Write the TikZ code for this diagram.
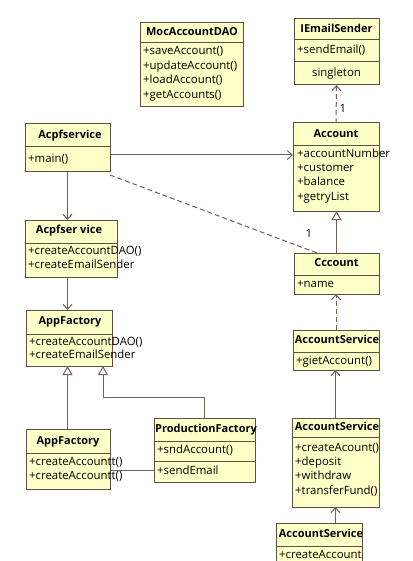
\documentclass[tikz,border=0pt]{standalone}
\usepackage{fontspec}
\setmainfont{Open Sans}
\usetikzlibrary{arrows.meta,calc}
\definecolor{boxfill}{RGB}{255,255,200}
\definecolor{edgecol}{RGB}{95,78,68}
\definecolor{conncol}{RGB}{115,98,88}
\tikzset{
 umlbox/.style={draw=edgecol, fill=boxfill, line width=1pt, inner sep=0pt, outer sep=0pt, anchor=north west},
 umltitle/.style={font=\bfseries\fontsize{11}{13}\selectfont, inner sep=0pt, anchor=mid},
 umlitem/.style={font=\fontsize{11.4}{13}\selectfont, inner sep=0pt, anchor=mid west},
 umlcenter/.style={font=\fontsize{11.4}{13}\selectfont, inner sep=0pt, anchor=mid},
 divider/.style={draw=edgecol, line width=1pt},
 conn/.style={draw=conncol, line width=1pt},
 dashconn/.style={conn, dash pattern=on 5pt off 3pt},
 openarrow/.style={-{Straight Barb[length=5pt,width=9pt]}},
 triarrow/.style={-{Triangle[open,length=9pt,width=10pt]}},
}
\begin{document}
\begin{tikzpicture}[x=1pt,y=-1pt]
\fill[white] (0,0) rectangle (412,561);
\useasboundingbox (0,0) rectangle (412,561);

% MocAccountDAO
\node[umlbox, minimum width=103pt, minimum height=84pt] (moc) at (140,23) {};
\draw[divider] (moc.west |- 0,43) -- (moc.east |- 0,43);
\node[umltitle] (moct) at (192,33) {MocAccountDAO};
\node[umlitem] (moc1) at (143,52) {+saveAccount()};
\node[umlitem] (moc2) at (143,66.5) {+updateAccount()};
\node[umlitem] (moc3) at (143,81) {+loadAccount()};
\node[umlitem] (moc4) at (143,95.5) {+getAccounts()};

% IEmailSender
\node[umlbox, minimum width=85pt, minimum height=66pt] (iem) at (294,19) {};
\draw[divider] (iem.west |- 0,40) -- (iem.east |- 0,40);
\draw[divider] (iem.west |- 0,62) -- (iem.east |- 0,62);
\node[umltitle] (iemt) at (336.5,30) {IEmailSender};
\node[umlitem] (iem1) at (297,51) {+sendEmail()};
\node[umlcenter] (iem2) at (336.5,73.5) {singleton};

% Acpfservice
\node[umlbox, minimum width=85pt, minimum height=48pt] (acpf) at (25,124) {};
\draw[divider] (acpf.west |- 0,147) -- (acpf.east |- 0,147);
\node[umltitle] (acpft) at (70,135.5) {Acpfservice};
\node[umlitem] (acpf1) at (28,160) {+main()};

% Account
\node[umlbox, minimum width=86pt, minimum height=88pt] (acc) at (293,123) {};
\draw[divider] (acc.west |- 0,146) -- (acc.east |- 0,146);
\node[umltitle] (acct) at (336,134.5) {Account};
\node[umlitem] (acc1) at (297,155) {+accountNumber};
\node[umlitem] (acc2) at (297,169) {+customer};
\node[umlitem] (acc3) at (297,183) {+balance};
\node[umlitem] (acc4) at (297,197.5) {+getryList};

% Acpfser vice
\node[umlbox, minimum width=92pt, minimum height=57pt] (acpf2) at (25,220) {};
\draw[divider] (acpf2.west |- 0,243) -- (acpf2.east |- 0,243);
\node[umltitle] (acpf2t) at (69,231) {Acpfser vice};
\node[umlitem] (acpf21) at (28,252) {+createAccountDAO()};
\node[umlitem] (acpf22) at (28,266) {+createEmailSender};

% Cccount
\node[umlbox, minimum width=85pt, minimum height=41pt] (ccc) at (294,253) {};
\draw[divider] (ccc.west |- 0,275) -- (ccc.east |- 0,275);
\node[umltitle] (ccct) at (336.5,264) {Cccount};
\node[umlitem] (ccc1) at (297,285) {+name};

% AppFactory (upper)
\node[umlbox, minimum width=86pt, minimum height=56pt] (appf) at (26,310) {};
\draw[divider] (appf.west |- 0,334) -- (appf.east |- 0,334);
\node[umltitle] (appft) at (70,322) {AppFactory};
\node[umlitem] (appf1) at (29,343) {+createAccountDAO()};
\node[umlitem] (appf2i) at (29,356) {+createEmailSender};

% AccountService (middle)
\node[umlbox, minimum width=86pt, minimum height=40pt] (asm) at (293,330) {};
\draw[divider] (asm.west |- 0,352) -- (asm.east |- 0,352);
\node[umltitle] (asmt) at (337,341) {AccountService};
\node[umlitem] (asm1) at (296,362) {+gietAccount()};

% AppFactory (lower)
\node[umlbox, minimum width=84pt, minimum height=60pt] (appfl) at (26,429) {};
\draw[divider] (appfl.west |- 0,453) -- (appfl.east |- 0,453);
\node[umltitle] (appflt) at (68,441.5) {AppFactory};
\node[umlitem] (appfl1) at (29,463) {+createAccountt()};
\node[umlitem] (appfl2) at (29,477) {+createAccountt()};

% ProductionFactory
\node[umlbox, minimum width=101pt, minimum height=64pt] (prod) at (154,418) {};
\draw[divider] (prod.west |- 0,441) -- (prod.east |- 0,441);
\draw[divider] (prod.west |- 0,461) -- (prod.east |- 0,461);
\node[umltitle] (prodt) at (206,430) {ProductionFactory};
\node[umlitem] (prod1) at (157,451) {+sndAccount()};
\node[umlitem] (prod2) at (157,472) {+sendEmail};

% AccountService (lower right)
\node[umlbox, minimum width=87pt, minimum height=89pt] (aslr) at (292,418) {};
\draw[divider] (aslr.west |- 0,437) -- (aslr.east |- 0,437);
\node[umltitle] (aslrt) at (337,428) {AccountService};
\node[umlitem] (aslr1) at (295,449) {+createAcount()};
\node[umlitem] (aslr2) at (295,463) {+deposit};
\node[umlitem] (aslr3) at (295,477) {+withdraw};
\node[umlitem] (aslr4) at (295,491.5) {+transferFund()};

% AccountService (bottom)
\node[umlbox, minimum width=86pt, minimum height=44pt] (asb) at (276,523) {};
\draw[divider] (asb.west |- 0,546) -- (asb.east |- 0,546);
\node[umltitle] (asbt) at (321,535) {AccountService};
\node[umlitem] (asb1) at (279,556) {+createAccount};

% ---------- connectors ----------
% Acpfservice -> Account
\coordinate (c1) at ([yshift=-7pt]acpf.east);
\draw[conn, openarrow] (c1) -- (c1 -| acc.west);
% Acpfservice .. Cccount
\coordinate (c2) at ([yshift=-3pt]acpf.south east);
\coordinate (c3) at ([xshift=23pt]ccc.north west);
\draw[dashconn] (c2) -- (c3);
\node[umlitem, anchor=mid] (l1) at (309,235) {1};
% Acpfservice -> Acpfser vice
\draw[conn, openarrow] (acpf.south) -- (acpf.south |- acpf2.north);
% Acpfser vice -> AppFactory
\draw[conn, openarrow] (acpf.south |- acpf2.south) -- (acpf.south |- appf.north);
% AppFactory (lower) -> AppFactory
\draw[conn, triarrow] (acpf.south |- appfl.north) -- (acpf.south |- appf.south);
% ProductionFactory -> AppFactory
\coordinate (bend) at ([xshift=-9pt,yshift=-31pt]appf.south east);
\draw[conn, triarrow] (prod.north) -- (prod.north |- bend) -- (bend) -- (bend |- appf.south);
% AppFactory (lower) -- ProductionFactory
\coordinate (c4) at ([yshift=-11pt]appfl.east);
\draw[conn] (c4) -- (c4 -| prod.west);
% Account -> IEmailSender
\draw[dashconn, openarrow] (acc.north) -- (iem.south);
\node[umlitem, anchor=mid] (l2) at (343,110) {1};
% Cccount -> Account
\draw[conn, triarrow] (ccc.north) -- (ccc.north |- acc.south);
% AccountService (mid) -> Cccount
\draw[dashconn, openarrow] (asm.north) -- (asm.north |- ccc.south);
% AccountService (lower right) -> AccountService (mid)
\draw[conn, openarrow] (aslr.north) -- (aslr.north |- asm.south);
% AccountService (bottom) -> AccountService (lower right)
\draw[conn, openarrow] (aslr.south |- asb.north) -- (aslr.south);
\end{tikzpicture}
\end{document}
